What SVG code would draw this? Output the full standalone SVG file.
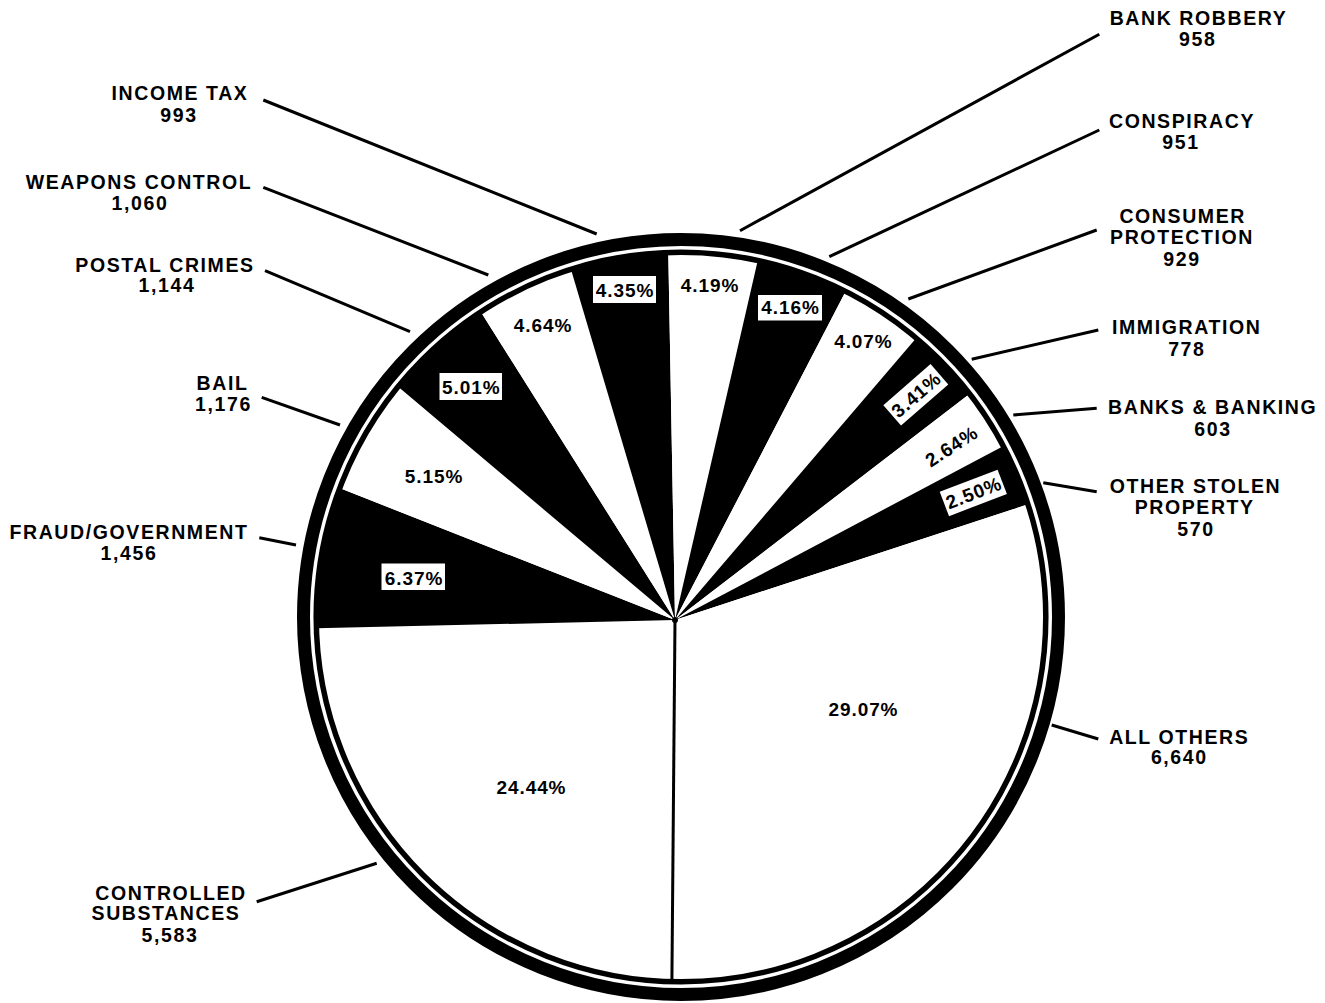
<svg xmlns="http://www.w3.org/2000/svg" width="1325" height="1003" viewBox="0 0 1325 1003">
<style>
.lbl{font-family:"Liberation Sans",Arial,Helvetica,sans-serif;font-weight:bold;font-size:19.5px;letter-spacing:1.6px;text-anchor:middle;fill:#000}
.pct{font-family:"Liberation Sans",Arial,Helvetica,sans-serif;font-weight:bold;font-size:19px;letter-spacing:0.9px;text-anchor:middle;fill:#000}
.blk{fill:#000}
.wht{fill:#fff}
.box{fill:#fff}
.lead{stroke:#000;stroke-width:3;fill:none}
</style>
<rect x="0" y="0" width="1325" height="1003" fill="#fff"/>
<circle cx="681" cy="617" r="365" fill="#fff"/>

<g id="node-controlled-substances">
<path class="wht" d="M675,620 L671.9,981.9 A365,365 0 0 1 316.18,628.34 Z"/>
<text class="pct" x="531.5" y="794">24.44%</text>
<text class="lbl" x="171" y="900">CONTROLLED</text>
<text class="lbl" x="166" y="920">SUBSTANCES</text>
<text class="lbl" x="170" y="941.7">5,583</text>
</g>
<g id="node-fraud-government">
<path class="blk" d="M675,620 L316.18,628.34 A365,365 0 0 1 339.53,488.12 Z"/>
<rect class="box" x="381.5" y="563.5" width="63.5" height="26.5"/>
<text class="pct" x="414" y="585">6.37%</text>
<text class="lbl" x="129" y="539">FRAUD/GOVERNMENT</text>
<text class="lbl" x="129" y="560">1,456</text>
</g>
<g id="node-bail">
<path class="wht" d="M675,620 L339.53,488.12 A365,365 0 0 1 397.91,386.6 Z"/>
<text class="pct" x="434" y="482.7">5.15%</text>
<text class="lbl" x="222.5" y="390">BAIL</text>
<text class="lbl" x="223.5" y="410.7">1,176</text>
</g>
<g id="node-postal-crimes">
<path class="blk" d="M675,620 L397.91,386.6 A365,365 0 0 1 480.74,311.84 Z"/>
<rect class="box" x="439.5" y="373" width="62.5" height="27"/>
<text class="pct" x="471.3" y="394">5.01%</text>
<text class="lbl" x="165" y="271.7">POSTAL CRIMES</text>
<text class="lbl" x="167" y="292">1,144</text>
</g>
<g id="node-weapons-control">
<path class="wht" d="M675,620 L480.74,311.84 A365,365 0 0 1 570.85,269.02 Z"/>
<text class="pct" x="543" y="332.3">4.64%</text>
<text class="lbl" x="139" y="189.3">WEAPONS CONTROL</text>
<text class="lbl" x="140" y="210">1,060</text>
</g>
<g id="node-income-tax">
<path class="blk" d="M675,620 L570.85,269.02 A365,365 0 0 1 668.28,252.23 Z"/>
<rect class="box" x="593" y="276" width="63" height="27"/>
<text class="pct" x="625" y="296.5">4.35%</text>
<text class="lbl" x="180" y="100">INCOME TAX</text>
<text class="lbl" x="179" y="121.7">993</text>
</g>
<g id="node-bank-robbery">
<path class="wht" d="M675,620 L668.28,252.23 A365,365 0 0 1 757.81,260.17 Z"/>
<text class="pct" x="710" y="291.7">4.19%</text>
<text class="lbl" x="1198.5" y="25">BANK ROBBERY</text>
<text class="lbl" x="1197.7" y="46">958</text>
</g>
<g id="node-conspiracy">
<path class="blk" d="M675,620 L757.81,260.17 A365,365 0 0 1 845.72,291.28 Z"/>
<rect class="box" x="758" y="295" width="64" height="25.5"/>
<text class="pct" x="790.5" y="314">4.16%</text>
<text class="lbl" x="1182" y="128.3">CONSPIRACY</text>
<text class="lbl" x="1181" y="149.3">951</text>
</g>
<g id="node-consumer-protection">
<path class="wht" d="M675,620 L845.72,291.28 A365,365 0 0 1 916.29,337.96 Z"/>
<text class="pct" x="863.4" y="348.3">4.07%</text>
<text class="lbl" x="1182.7" y="222.7">CONSUMER</text>
<text class="lbl" x="1182" y="244.3">PROTECTION</text>
<text class="lbl" x="1182" y="266">929</text>
</g>
<g id="node-immigration">
<path class="blk" d="M675,620 L916.29,337.96 A365,365 0 0 1 969.78,393.78 Z"/>
<g transform="translate(915.8,394.8) rotate(-41)">
<rect class="box" x="-31.3" y="-13.5" width="62.6" height="27"/>
<text class="pct" x="0.5" y="6.8">3.41%</text>
</g>
<text class="lbl" x="1186.7" y="334.3">IMMIGRATION</text>
<text class="lbl" x="1186.8" y="356">778</text>
</g>
<g id="node-banks-banking">
<path class="wht" d="M675,620 L969.78,393.78 A365,365 0 0 1 1003.5,446.07 Z"/>
<g transform="translate(951,446.5) rotate(-33)">
<text class="pct" x="0.5" y="6.8">2.64%</text>
</g>
<text class="lbl" x="1212.7" y="414.3">BANKS &amp; BANKING</text>
<text class="lbl" x="1213" y="436">603</text>
</g>
<g id="node-other-stolen-property">
<path class="blk" d="M675,620 L1003.5,446.07 A365,365 0 0 1 1028.17,504.3 Z"/>
<g transform="translate(973.3,492.9) rotate(-21)">
<rect class="box" x="-31" y="-13" width="62" height="26"/>
<text class="pct" x="0.5" y="6.8">2.50%</text>
</g>
<text class="lbl" x="1195.5" y="493.3">OTHER STOLEN</text>
<text class="lbl" x="1194.7" y="514.3">PROPERTY</text>
<text class="lbl" x="1196" y="536">570</text>
</g>
<g id="node-all-others">
<path class="wht" d="M675,620 L1028.17,504.3 A365,365 0 0 1 671.9,981.9 Z"/>
<text class="pct" x="863.5" y="716">29.07%</text>
<text class="lbl" x="1179.3" y="744">ALL OTHERS</text>
<text class="lbl" x="1179.3" y="764">6,640</text>
</g>

<g id="pie-frame">
<line x1="675" y1="620" x2="671.9" y2="980" stroke="#000" stroke-width="3"/>
<circle cx="675" cy="620" r="3" fill="#000"/>
<circle cx="681" cy="617" r="364.8" fill="none" stroke="#000" stroke-width="5.5"/>
<circle cx="681" cy="617" r="377.5" fill="none" stroke="#000" stroke-width="13"/>
</g>

<g id="connectors">
<line class="lead" x1="263.3" y1="100" x2="596.7" y2="234"/>
<line class="lead" x1="263.3" y1="187.3" x2="488.3" y2="275"/>
<line class="lead" x1="265" y1="270.7" x2="410" y2="331.7"/>
<line class="lead" x1="261.7" y1="397.3" x2="340" y2="425"/>
<line class="lead" x1="259.3" y1="537.7" x2="296" y2="545"/>
<line class="lead" x1="256.7" y1="901.7" x2="376.7" y2="863.3"/>
<line class="lead" x1="740" y1="230.7" x2="1099.3" y2="34.3"/>
<line class="lead" x1="829.3" y1="256.7" x2="1099.3" y2="130"/>
<line class="lead" x1="908.3" y1="299" x2="1096.7" y2="230"/>
<line class="lead" x1="971.7" y1="359.3" x2="1098.3" y2="330"/>
<line class="lead" x1="1013.3" y1="415" x2="1096.7" y2="408.3"/>
<line class="lead" x1="1043.3" y1="482.7" x2="1096.7" y2="491.7"/>
<line class="lead" x1="1051.7" y1="725" x2="1098.3" y2="739"/>
</g>
</svg>
